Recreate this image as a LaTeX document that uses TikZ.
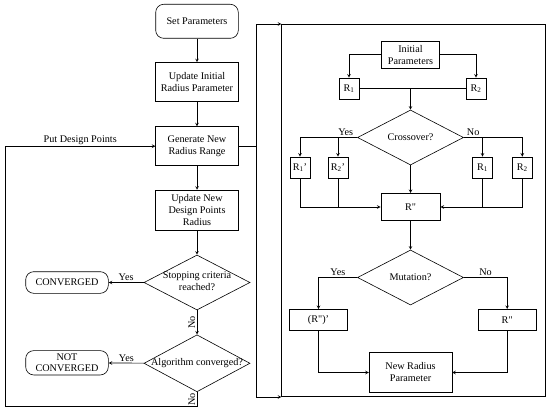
\documentclass[tikz,border=0pt]{standalone}
\usepackage{fontspec}
\setmainfont{Liberation Serif}
\usetikzlibrary{shapes.geometric}
\newcommand{\dlabel}[1]{\makebox[0pt]{\begin{tabular}{@{}c@{}}#1\end{tabular}}}
\newcommand{\Rpp}{R\textquotedbl}

\begin{document}
\begin{tikzpicture}[>=stealth, x=1pt, y=-1pt, line width=.6pt,
  font=\fontsize{10.2}{12}\selectfont,
  box/.style={draw, align=center, minimum width=82.6pt, minimum height=39pt, inner sep=1pt},
  term/.style={draw, rounded corners=8pt, align=center, minimum width=82.6pt, inner sep=1pt},
  cond/.style={draw, diamond, inner sep=0pt, minimum width=106pt, minimum height=55pt},
  rbox/.style={draw, minimum width=20pt, minimum height=21.5pt, inner sep=0pt},
  lbl/.style={inner sep=1.5pt}]
\useasboundingbox (0,0) rectangle (550,412);
% main loop
\node[term, minimum height=34pt] (set) at (197,21.3) {Set Parameters};
\node[box] (init) at (197,82) {Update Initial\\Radius Parameter};
\node[box] (gen) at (197,146.2) {Generate New\\Radius Range};
\node[box, minimum height=40.7pt] (upd) at (197,210.4) {Update New\\Design Points\\Radius};
\node[cond] (stop) at (197,282.5) {\dlabel{Stopping criteria\\reached?}};
\node[cond, minimum height=57pt] (alg) at (197,363.3) {\dlabel{Algorithm converged?}};
\node[term, minimum height=21.6pt] (conv) at (67,282.5) {CONVERGED};
\node[term, minimum height=24.3pt, font=\fontsize{10.2}{11}\selectfont] (notc) at (67,362.8) {NOT\\CONVERGED};
\coordinate (lb) at (5,406.7);
\coordinate (bx) at (256.7,146.2);
\draw[->] (set) -- (init);
\draw[->] (init) -- (gen);
\draw[->] (gen) -- (upd);
\draw[->] (upd) -- (stop);
\draw[->] (stop) -- node[lbl, above]{Yes} (conv);
\draw[->] (stop) -- node[lbl, rotate=90, anchor=south]{No} (alg);
\draw[->] (alg) -- node[lbl, above]{Yes} (notc);
\draw[->] (alg.south) -- node[lbl, rotate=90, anchor=south]{No} (alg.south |- lb) -- (lb)
  |- node[pos=.75, lbl, above]{Put Design Points} (gen.west);
% genetic step
\node[draw, minimum width=264pt, minimum height=372.4pt] (panel) at (413.7,210.5) {};
\draw (gen.east) -- (bx);
\draw[->] (bx) |- (panel.north west);
\draw[->] (bx) |- (panel.south west);
\node[draw, align=center, minimum width=57.7pt, minimum height=27.3pt, inner sep=1pt] (ip) at (410.5,54.7) {Initial\\Parameters};
\node[rbox] (ra) at (349,88.7) {R\textsubscript{1}};
\node[rbox] (rb) at (476,88.7) {R\textsubscript{2}};
\node[cond] (cross) at (410.5,137.5) {Crossover?};
\draw[->] (ip.west) -| (ra);
\draw[->] (ip.east) -| (rb);
\draw (ra) -- (rb);
\draw[->] (ra.east -| cross.north) -- (cross.north);
\node[rbox] (ca) at (300,167.7) {R\textsubscript{1}'};
\node[rbox] (cb) at (338,167.7) {R\textsubscript{2}'};
\node[rbox] (cc) at (482.5,167.7) {R\textsubscript{1}};
\node[rbox] (cd) at (522.3,167.7) {R\textsubscript{2}};
\draw[->] (cross.west) -| node[pos=.1, lbl, above]{Yes} (ca);
\draw[->] (cross.west -| cb) -- (cb);
\draw[->] (cross.east) -| node[pos=.08, lbl, above]{No} (cd);
\draw[->] (cross.east -| cc) -- (cc);
\node[draw, minimum width=59.3pt, minimum height=27.4pt] (rpp) at (410.5,207) {\Rpp};
\draw[->] (cross) -- (rpp);
\draw[->] (ca) |- (rpp);
\draw (cb.south) -- (cb.south |- rpp.west);
\draw[->] (cd) |- (rpp);
\draw (cc.south) -- (cc.south |- rpp.east);
% mutation step
\node[cond] (mut) at (410.5,277.5) {Mutation?};
\draw[->] (rpp) -- (mut);
\node[draw, minimum width=58.4pt, minimum height=20.7pt] (rm) at (318.5,319.7) {(\Rpp)'};
\node[draw, minimum width=57.7pt, minimum height=20.7pt] (rn) at (507.2,319.7) {\Rpp};
\draw[->] (mut.west) -| node[pos=.25, lbl, above]{Yes} (rm);
\draw[->] (mut.east) -| node[pos=.25, lbl, above]{No} (rn);
\node[draw, align=center, minimum width=82.7pt, minimum height=39.6pt] (nrp) at (410.5,372.5) {New Radius\\Parameter};
\draw[->] (rm) |- (nrp);
\draw[->] (rn) |- (nrp);
\end{tikzpicture}
\end{document}
